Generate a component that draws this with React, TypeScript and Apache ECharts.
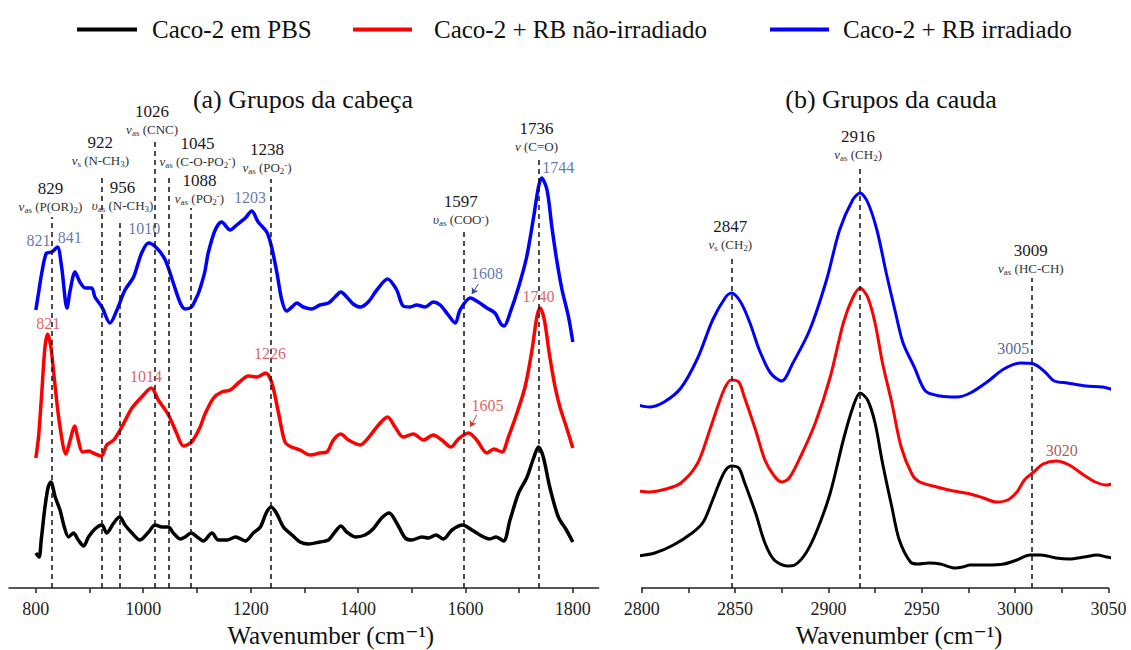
import { useEffect, useRef } from 'react';
import * as echarts from 'echarts';

const FONT = '"Liberation Serif", "DejaVu Serif", serif';

const seriesNames = ['Caco-2 em PBS', 'Caco-2 + RB não-irradiado', 'Caco-2 + RB irradiado'];
const seriesColors = ['#000000', '#ff0000', '#0000ff'];

// (a) Grupos da cabeça — wavenumber (cm-1), absorbance (a.u., stacked offsets)
const headPBS: number[][] = [[800,35],[806,31],[810,48],[817,81],[823,101],[828,106],[836,91],[845,78],[853,61],[861,51],[870,55],[879,48],[889,42],[898,51],[910,59],[923,63],[932,55],[945,65],[956,71],[966,63],[979,55],[994,48],[1010,56],[1022,63],[1035,61],[1047,61],[1056,55],[1069,49],[1078,51],[1089,55],[1103,50],[1112,47],[1128,55],[1140,48],[1156,48],[1172,51],[1190,47],[1205,55],[1218,61],[1229,75],[1238,81],[1248,75],[1261,61],[1277,53],[1292,46],[1308,44],[1329,46],[1345,48],[1357,56],[1368,62],[1379,56],[1395,51],[1413,53],[1428,59],[1444,70],[1458,75],[1472,65],[1488,50],[1500,48],[1519,51],[1531,50],[1545,53],[1559,49],[1575,58],[1595,63],[1612,58],[1627,53],[1645,49],[1657,51],[1671,47],[1683,68],[1699,95],[1714,110],[1727,130],[1736,141],[1745,131],[1757,101],[1773,71],[1788,58],[1800,46]];
const headRBDark: number[][] = [[800,130],[805,151],[811,195],[817,241],[822,254],[828,241],[836,201],[845,161],[856,134],[864,148],[872,162],[879,148],[887,136],[898,137],[907,135],[922,132],[932,143],[945,148],[960,161],[979,180],[997,191],[1015,200],[1028,188],[1047,173],[1062,155],[1075,142],[1090,146],[1106,161],[1115,174],[1131,190],[1146,196],[1162,198],[1177,205],[1196,212],[1212,211],[1228,215],[1239,206],[1252,175],[1264,146],[1276,141],[1292,138],[1311,133],[1329,135],[1342,136],[1354,148],[1368,154],[1382,148],[1404,143],[1419,150],[1438,163],[1455,171],[1469,161],[1484,151],[1503,154],[1522,148],[1540,153],[1556,148],[1573,141],[1587,149],[1606,155],[1621,148],[1640,135],[1653,139],[1668,136],[1680,151],[1696,175],[1711,201],[1724,238],[1733,271],[1739,280],[1747,268],[1756,235],[1767,201],[1776,181],[1788,161],[1800,140]];
const headRBIrr: number[][] = [[800,278],[805,295],[811,315],[820,335],[830,336],[840,341],[848,321],[858,280],[864,298],[873,316],[882,306],[892,300],[904,300],[910,291],[923,281],[938,265],[951,278],[966,298],[982,311],[997,335],[1010,345],[1025,340],[1041,328],[1056,305],[1069,285],[1078,279],[1090,281],[1097,288],[1103,295],[1109,305],[1115,317],[1121,335],[1134,358],[1146,366],[1162,358],[1174,363],[1190,370],[1202,377],[1214,366],[1230,356],[1239,341],[1249,315],[1258,288],[1267,277],[1277,281],[1286,285],[1298,281],[1314,279],[1329,283],[1345,285],[1357,291],[1368,296],[1379,291],[1391,284],[1404,281],[1419,286],[1435,298],[1455,309],[1472,298],[1484,282],[1497,281],[1509,283],[1525,281],[1540,286],[1553,283],[1568,273],[1581,265],[1590,278],[1609,290],[1624,286],[1640,280],[1655,275],[1665,265],[1672,262],[1683,275],[1699,301],[1714,331],[1727,371],[1736,401],[1742,410],[1752,398],[1761,361],[1770,328],[1780,298],[1792,271],[1800,246]];

// (b) Grupos da cauda
const tailPBS: number[][] = [[2798,32],[2807,35],[2817,43],[2827,55],[2833,66],[2838,88],[2844,115],[2848,122],[2852,120],[2855,106],[2861,75],[2866,45],[2871,28],[2878,22],[2882,23],[2888,35],[2894,58],[2901,95],[2908,148],[2913,180],[2917,195],[2921,188],[2925,165],[2929,125],[2934,81],[2938,48],[2944,26],[2948,24],[2954,25],[2960,24],[2968,20],[2972,21],[2976,23],[2985,23],[2994,24],[3001,28],[3008,33],[3014,33],[3022,30],[3029,29],[3037,31],[3044,33],[3049,31],[3053,30]];
const tailRBDark: number[][] = [[2798,97],[2804,96],[2813,99],[2821,105],[2830,125],[2837,161],[2844,198],[2848,208],[2852,206],[2855,191],[2861,158],[2866,128],[2871,112],[2875,106],[2879,110],[2885,131],[2893,165],[2901,211],[2908,265],[2913,290],[2917,300],[2921,291],[2925,265],[2929,225],[2934,185],[2939,141],[2945,113],[2949,106],[2958,101],[2967,97],[2976,94],[2983,90],[2990,86],[2996,88],[3001,96],[3005,108],[3010,116],[3015,124],[3022,127],[3029,123],[3036,114],[3043,106],[3049,103],[3053,105]];
const tailRBIrr: number[][] = [[2798,183],[2804,181],[2812,186],[2821,200],[2830,230],[2838,268],[2845,291],[2848,295],[2853,286],[2858,265],[2863,238],[2869,215],[2875,207],[2881,225],[2890,258],[2899,308],[2906,358],[2913,388],[2917,395],[2921,386],[2926,358],[2931,315],[2936,275],[2940,245],[2946,221],[2952,197],[2960,192],[2969,191],[2976,195],[2985,206],[2994,219],[3003,225],[3010,224],[3016,216],[3021,207],[3028,205],[3038,202],[3047,201],[3053,198]];

// axis ticks / labels
const headTicks = [800, 900, 1000, 1100, 1200, 1300, 1400, 1500, 1600, 1700, 1800];
const headTickLabels = [800, 1000, 1200, 1400, 1600, 1800];
const tailTicks = [2800, 2825, 2850, 2875, 2900, 2925, 2950, 2975, 3000, 3025, 3050];
const tailTickLabels = [2800, 2850, 2900, 2950, 3000, 3050];

// band assignments (dashed lines)
const headBandX = [829, 922, 956, 1022, 1047, 1088, 1238, 1597, 1736];
const headBandTop = [371, 411, 366, 449, 414, 380, 409, 356, 428];
const headBandNum = ['829', '922', '956', '1026', '1045', '1088', '1238', '1597', '1736'];
const headBandMode = ['ν_as (P(OR)_2)', 'ν_s (N-CH_3)', 'υ_as (N-CH_3)', 'ν_as (CNC)', 'ν_as (C-O-PO_2^-)', 'ν_as (PO_2^-)', 'ν_as (PO_2^-)', 'υ_as (COO^-)', 'ν (C=O)'];
const tailBandX = [2848, 2917, 3009];
const tailBandTop = [331, 419, 310];
const tailBandNum = ['2847', '2916', '3009'];
const tailBandMode = ['ν_s (CH_2)', 'ν_as (CH_2)', 'ν_as (HC-CH)'];

// label placement relative to each dashed line (gap above the line, horizontal shift)
const headBandGap = [3, 9, 9, 2, 5, 2, 4, 5, 6];
const headBandShift = [-1, -1, 3, -3, 29, 9, -4, -3, -2];
const tailBandGap = [5, 7, 2];
const tailBandShift = [-1, -2, -1];

// peak labels: [text, wavenumber, absorbance]
const headIrrPeaks: [string, number, number][] = [['821', 805, 348], ['841', 863, 351], ['1010', 1002, 360], ['1203', 1199, 391], ['1608', 1640, 315], ['1744', 1773, 421]];
const headDarkPeaks: [string, number, number][] = [['821', 823, 265], ['1014', 1005, 212], ['1226', 1236, 235], ['1740', 1736, 292], ['1605', 1641, 183]];
const tailIrrPeaks: [string, number, number][] = [['3005', 2999, 240]];
const tailDarkPeaks: [string, number, number][] = [['3020', 3025, 138]];
// arrows pointing at 1608 / 1605
const irrArrow = [[1624, 304], [1612, 294]];
const darkArrow = [[1621, 173], [1609, 161]];

function modeRich(m: string) {
  return m
    .replace(/^([νυ])/, '{g|$1}')
    .replace(/_(\w+)/g, '{s|$1}')
    .replace(/\^(\S)/g, '{p|$1}');
}

const bandRich = {
  n: { fontFamily: FONT, fontSize: 17, lineHeight: 21, color: '#1a1a1a' },
  g: { fontFamily: FONT, fontSize: 13, fontStyle: 'italic', lineHeight: 15, color: '#333' },
  s: { fontFamily: FONT, fontSize: 9, lineHeight: 9, verticalAlign: 'bottom', color: '#333' },
  p: { fontFamily: FONT, fontSize: 9, lineHeight: 9, verticalAlign: 'top', color: '#333' },
};

function bandMarkLine(xs: number[], tops: number[], nums: string[], modes: string[], gaps: number[], shifts: number[]) {
  return {
    silent: true,
    symbol: ['none', 'none'],
    animation: false,
    lineStyle: { color: '#111', type: [5, 4], width: 1.5 },
    label: {
      show: true,
      position: 'end',
      distance: 4,
      fontFamily: FONT,
      fontSize: 13,
      lineHeight: 15,
      color: '#333',
      rich: bandRich,
    },
    data: xs.map((x, i) => [
      { coord: [x, 0] },
      {
        coord: [x, tops[i]],
        label: {
          formatter: `{n|${nums[i]}}\n${modeRich(modes[i])}`,
          distance: gaps[i],
          padding: shifts[i] >= 0 ? [0, 0, 0, 2 * shifts[i]] : [0, -2 * shifts[i], 0, 0],
        },
      },
    ]),
  };
}

function arrowMarkLine(pts: number[][], color: string) {
  return {
    silent: true,
    symbol: ['none', 'arrow'],
    symbolSize: 6,
    animation: false,
    lineStyle: { color, type: 'solid', width: 1 },
    label: { show: false },
    data: [[{ coord: pts[0] }, { coord: pts[1] }]],
  };
}

function peakLabels(peaks: [string, number, number][], color: string, xi: number) {
  return {
    type: 'scatter',
    xAxisIndex: xi,
    yAxisIndex: xi,
    silent: true,
    symbolSize: 1,
    itemStyle: { color: 'rgba(0,0,0,0)' },
    z: 6,
    label: { show: true, position: 'inside', color, fontFamily: FONT, fontSize: 16 },
    data: peaks.map(([t, x, y]) => ({ value: [x, y], label: { formatter: t } })),
  };
}

function curve(name: string, data: number[][], color: string, xi: number, width: number, extra: any = {}) {
  return {
    type: 'line',
    name,
    xAxisIndex: xi,
    yAxisIndex: xi,
    data,
    symbol: 'none',
    showSymbol: false,
    smooth: 0.3,
    clip: false,
    color,
    itemStyle: { color },
    lineStyle: { color, width },
    z: 3,
    ...extra,
  };
}

function xAxisOpt(gi: number, min: number, max: number, ticks: number[], labels: number[], namePad: number) {
  return {
    type: 'value',
    gridIndex: gi,
    min,
    max,
    axisLine: { show: true, onZero: false, lineStyle: { color: '#222', width: 1.5 } },
    axisTick: { show: true, length: 5, customValues: ticks, lineStyle: { color: '#222', width: 1.5 } },
    axisLabel: { customValues: labels, formatter: (v: number) => String(v), fontFamily: FONT, fontSize: 18, color: '#222', margin: 12 },
    splitLine: { show: false },
    name: 'Wavenumber (cm⁻¹)',
    nameLocation: 'middle',
    nameGap: 30,
    nameTextStyle: { fontFamily: FONT, fontSize: 25, color: '#111', padding: [0, 0, 0, namePad] },
  };
}

export default function App() {
  const ref = useRef<HTMLDivElement>(null);
  useEffect(() => {
    if (!ref.current) return;
    const chart = echarts.init(ref.current, null, { renderer: 'svg' });
    const legendLeft = [72, 348, 765];
    const legendIcon = [60, 59, 59];
    const legendPad = [10, 17, 9];
    chart.setOption({
      animation: false,
      backgroundColor: '#ffffff',
      legend: seriesNames.map((n, i) => ({
        data: [n],
        left: legendLeft[i],
        top: 12,
        icon: 'rect',
        itemWidth: legendIcon[i],
        itemHeight: 4,
        selectedMode: false,
        textStyle: { fontFamily: FONT, fontSize: 25, color: '#111', padding: [0, 0, 0, legendPad[i]] },
      })),
      graphic: [
        { type: 'text', x: 303, y: 99, style: { text: '(a) Grupos da cabeça', fontFamily: FONT, fontSize: 26, fill: '#111', textAlign: 'center', textVerticalAlign: 'middle' } },
        { type: 'text', x: 891, y: 99, style: { text: '(b) Grupos da cauda', fontFamily: FONT, fontSize: 26, fill: '#111', textAlign: 'center', textVerticalAlign: 'middle' } },
      ],
      grid: [
        { left: 9, width: 589.6, top: 88, height: 500, outerBoundsMode: 'none', containLabel: false },
        { left: 641.7, width: 466.7, top: 88, height: 500, outerBoundsMode: 'none', containLabel: false },
      ],
      xAxis: [
        xAxisOpt(0, 750, 1848, headTicks, headTickLabels, 54),
        xAxisOpt(1, 2800, 3050, tailTicks, tailTickLabels, 48),
      ],
      yAxis: [
        { type: 'value', gridIndex: 0, min: 0, max: 500, show: false },
        { type: 'value', gridIndex: 1, min: 0, max: 500, show: false },
      ],
      series: [
        curve(seriesNames[0], headPBS, seriesColors[0], 0, 3.5, { markLine: bandMarkLine(headBandX, headBandTop, headBandNum, headBandMode, headBandGap, headBandShift) }),
        curve(seriesNames[1], headRBDark, seriesColors[1], 0, 3.5, { markLine: arrowMarkLine(darkArrow, '#c83a3a') }),
        curve(seriesNames[2], headRBIrr, seriesColors[2], 0, 3.5, { markLine: arrowMarkLine(irrArrow, '#2f4a86') }),
        curve(seriesNames[0], tailPBS, seriesColors[0], 1, 3, { markLine: bandMarkLine(tailBandX, tailBandTop, tailBandNum, tailBandMode, tailBandGap, tailBandShift) }),
        curve(seriesNames[1], tailRBDark, seriesColors[1], 1, 3),
        curve(seriesNames[2], tailRBIrr, seriesColors[2], 1, 3),
        peakLabels(headIrrPeaks, '#3b5794', 0),
        peakLabels(headDarkPeaks, '#d23a3a', 0),
        peakLabels(tailIrrPeaks, '#263f86', 1),
        peakLabels(tailDarkPeaks, '#9a2e2e', 1),
      ],
    });
    return () => chart.dispose();
  }, []);
  return <div ref={ref} style={{ position: 'absolute', left: 0, top: 0, width: 1131, height: 650, background: '#fff' }} />;
}
